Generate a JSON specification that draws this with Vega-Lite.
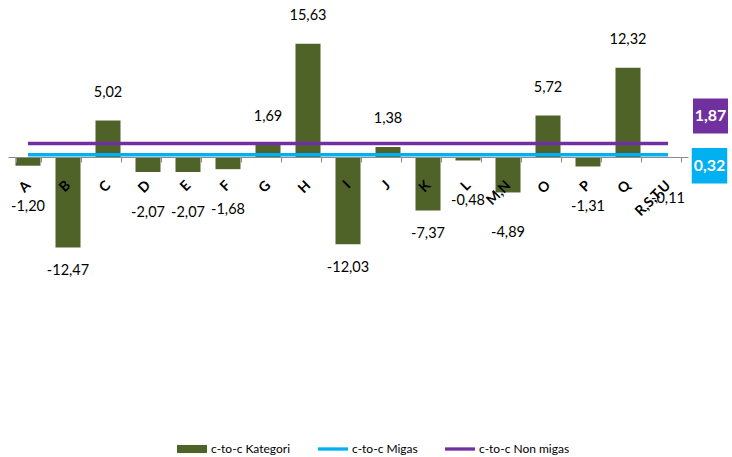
{
  "$schema": "https://vega.github.io/schema/vega-lite/v6.json",
  "width": 680,
  "height": 290,
  "autosize": {"type": "none"},
  "padding": {"left": 8, "top": 12, "right": 44, "bottom": 155},
  "background": "white",
  "config": {
    "view": {"stroke": null},
    "font": "Lato",
    "locale": {"number": {"decimal": ",", "thousands": ".", "grouping": [3], "currency": ["", ""], "minus": "-"}}
  },
  "data": {"values": [
    {"sektor": "A", "kategori": -1.20, "migas": 0.32, "nonmigas": 1.87},
    {"sektor": "B", "kategori": -12.47, "migas": 0.32, "nonmigas": 1.87},
    {"sektor": "C", "kategori": 5.02, "migas": 0.32, "nonmigas": 1.87},
    {"sektor": "D", "kategori": -2.07, "migas": 0.32, "nonmigas": 1.87},
    {"sektor": "E", "kategori": -2.07, "migas": 0.32, "nonmigas": 1.87},
    {"sektor": "F", "kategori": -1.68, "migas": 0.32, "nonmigas": 1.87},
    {"sektor": "G", "kategori": 1.69, "migas": 0.32, "nonmigas": 1.87},
    {"sektor": "H", "kategori": 15.63, "migas": 0.32, "nonmigas": 1.87},
    {"sektor": "I", "kategori": -12.03, "migas": 0.32, "nonmigas": 1.87},
    {"sektor": "J", "kategori": 1.38, "migas": 0.32, "nonmigas": 1.87},
    {"sektor": "K", "kategori": -7.37, "migas": 0.32, "nonmigas": 1.87},
    {"sektor": "L", "kategori": -0.48, "migas": 0.32, "nonmigas": 1.87},
    {"sektor": "M,N", "kategori": -4.89, "migas": 0.32, "nonmigas": 1.87},
    {"sektor": "O", "kategori": 5.72, "migas": 0.32, "nonmigas": 1.87},
    {"sektor": "P", "kategori": -1.31, "migas": 0.32, "nonmigas": 1.87},
    {"sektor": "Q", "kategori": 12.32, "migas": 0.32, "nonmigas": 1.87},
    {"sektor": "R,S,T,U", "kategori": -0.11, "migas": 0.32, "nonmigas": 1.87}
  ]},
  "encoding": {
    "x": {
      "field": "sektor", "type": "nominal", "sort": null,
      "scale": {"paddingInner": 0.375, "paddingOuter": 0.1875},
      "axis": {
        "title": null, "orient": "bottom", "offset": -145, "zindex": 1,
        "labelAngle": -45, "labelAlign": "right", "labelBaseline": "middle",
        "labelFont": "Lato", "labelFontWeight": "bold", "labelFontSize": 14, "labelColor": "#000000",
        "labelPadding": 21, "labelOverlap": false,
        "tickBand": "extent", "tickSize": 5, "tickColor": "#8c8c8c", "domainColor": "#8c8c8c",
        "grid": false
      }
    }
  },
  "layer": [
    {
      "mark": {"type": "bar"},
      "encoding": {
        "y": {"field": "kategori", "type": "quantitative", "scale": {"domain": [-20, 20], "nice": false}, "axis": null},
        "color": {
          "datum": "c-to-c Kategori",
          "scale": {"domain": ["c-to-c Kategori", "c-to-c Migas", "c-to-c Non migas"], "range": ["#4F6228", "#00B0F0", "#7030A0"]},
          "legend": {
            "orient": "none", "legendX": 169, "legendY": 422, "direction": "horizontal", "title": null,
            "labelFont": "Lato", "labelFontSize": 12, "labelColor": "#000000",
            "symbolSize": 900, "symbolStrokeWidth": 0, "columnPadding": 27, "labelOffset": 4,
            "encode": {"symbols": {"update": {
              "shape": {"signal": "datum.value === 'c-to-c Kategori' ? 'M-1,-0.27H1V0.27H-1Z' : 'M-1,-0.11H1V0.11H-1Z'"},
              "fill": {"scale": "color", "field": "value"},
              "stroke": {"value": "transparent"},
              "opacity": {"value": 1}
            }}}
          }
        }
      }
    },
    {
      "mark": {"type": "line", "strokeWidth": 3.5},
      "encoding": {
        "y": {"field": "migas", "type": "quantitative", "scale": {"domain": [-20, 20], "nice": false}, "axis": null},
        "color": {"datum": "c-to-c Migas"}
      }
    },
    {
      "mark": {"type": "line", "strokeWidth": 3.5},
      "encoding": {
        "y": {"field": "nonmigas", "type": "quantitative", "scale": {"domain": [-20, 20], "nice": false}, "axis": null},
        "color": {"datum": "c-to-c Non migas"}
      }
    },
    {
      "transform": [{"filter": "datum.kategori > 0"}],
      "mark": {"type": "text", "font": "Lato", "fontSize": 14.5, "color": "#000000", "baseline": "middle", "align": "center", "dy": -28},
      "encoding": {
        "y": {"field": "kategori", "type": "quantitative", "scale": {"domain": [-20, 20], "nice": false}, "axis": null},
        "text": {"field": "kategori", "type": "quantitative", "format": ".2f"}
      }
    },
    {
      "transform": [{"filter": "datum.kategori < 0 && datum.kategori > -5"}],
      "mark": {"type": "text", "font": "Lato", "fontSize": 14.5, "color": "#000000", "baseline": "middle", "align": "center", "dy": 41},
      "encoding": {
        "y": {"field": "kategori", "type": "quantitative", "scale": {"domain": [-20, 20], "nice": false}, "axis": null},
        "text": {"field": "kategori", "type": "quantitative", "format": ".2f"}
      }
    },
    {
      "transform": [{"filter": "datum.kategori <= -5"}],
      "mark": {"type": "text", "font": "Lato", "fontSize": 14.5, "color": "#000000", "baseline": "middle", "align": "center", "dy": 24},
      "encoding": {
        "y": {"field": "kategori", "type": "quantitative", "scale": {"domain": [-20, 20], "nice": false}, "axis": null},
        "text": {"field": "kategori", "type": "quantitative", "format": ".2f"}
      }
    },
    {
      "transform": [{"filter": "datum.sektor === 'R,S,T,U'"}],
      "mark": {"type": "point", "shape": "square", "filled": true, "size": 1225, "opacity": 1, "color": "#7030A0", "xOffset": 42.5, "yOffset": -27.5},
      "encoding": {
        "y": {"field": "nonmigas", "type": "quantitative", "scale": {"domain": [-20, 20], "nice": false}, "axis": null}
      }
    },
    {
      "transform": [{"filter": "datum.sektor === 'R,S,T,U'"}],
      "mark": {"type": "text", "font": "Lato", "fontWeight": "bold", "fontSize": 16, "color": "#ffffff", "baseline": "middle", "align": "center", "xOffset": 42.5, "yOffset": -27.5},
      "encoding": {
        "y": {"field": "nonmigas", "type": "quantitative", "scale": {"domain": [-20, 20], "nice": false}, "axis": null},
        "text": {"field": "nonmigas", "type": "quantitative", "format": ".2f"}
      }
    },
    {
      "transform": [{"filter": "datum.sektor === 'R,S,T,U'"}],
      "mark": {"type": "point", "shape": "square", "filled": true, "size": 1260, "opacity": 1, "color": "#00B0F0", "xOffset": 41.5, "yOffset": 11},
      "encoding": {
        "y": {"field": "migas", "type": "quantitative", "scale": {"domain": [-20, 20], "nice": false}, "axis": null}
      }
    },
    {
      "transform": [{"filter": "datum.sektor === 'R,S,T,U'"}],
      "mark": {"type": "text", "font": "Lato", "fontWeight": "bold", "fontSize": 16, "color": "#ffffff", "baseline": "middle", "align": "center", "xOffset": 41.5, "yOffset": 11},
      "encoding": {
        "y": {"field": "migas", "type": "quantitative", "scale": {"domain": [-20, 20], "nice": false}, "axis": null},
        "text": {"field": "migas", "type": "quantitative", "format": ".2f"}
      }
    }
  ]
}
